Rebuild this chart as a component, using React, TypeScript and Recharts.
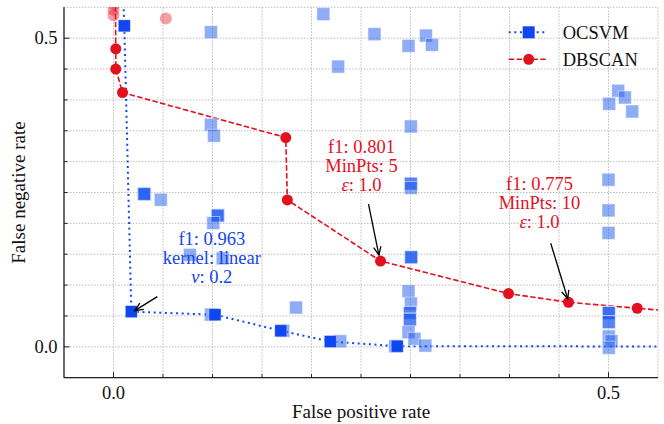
import React from 'react';
import { ComposedChart, XAxis, YAxis, CartesianGrid, Line, Scatter, ReferenceDot } from 'recharts';

// ---------- data ----------
const ocsvmFront = [
  { x: 0.0, y: 1.0 },
  { x: 0.0109, y: 0.52 },
  { x: 0.018, y: 0.057 },
  { x: 0.1025, y: 0.052 },
  { x: 0.169, y: 0.026 },
  { x: 0.219, y: 0.0086 },
  { x: 0.2866, y: 0.001 },
  { x: 1.0, y: 0.0 },
];

const dbscanFront = [
  { x: 0.0, y: 1.0 },
  { x: 0.0023, y: 0.4827 },
  { x: 0.0023, y: 0.45 },
  { x: 0.0091, y: 0.412 },
  { x: 0.174, y: 0.339 },
  { x: 0.1756, y: 0.238 },
  { x: 0.2697, y: 0.139 },
  { x: 0.399, y: 0.0862 },
  { x: 0.4596, y: 0.0722 },
  { x: 0.529, y: 0.0625 },
  { x: 1.0, y: 0.0 },
];

const ocsvmAll = [
  { x: 0.0984, y: 0.5097 },
  { x: 0.212, y: 0.539 },
  { x: 0.2636, y: 0.5065 },
  { x: 0.2269, y: 0.454 },
  { x: 0.298, y: 0.4875 },
  { x: 0.3156, y: 0.5042 },
  { x: 0.3217, y: 0.4892 },
  { x: 0.5098, y: 0.4147 },
  { x: 0.5165, y: 0.4039 },
  { x: 0.5007, y: 0.3937 },
  { x: 0.524, y: 0.3812 },
  { x: 0.0984, y: 0.3597 },
  { x: 0.1015, y: 0.3419 },
  { x: 0.031, y: 0.2476 },
  { x: 0.0305, y: 0.2485 },
  { x: 0.0315, y: 0.247 },
  { x: 0.031, y: 0.2476 },
  { x: 0.0478, y: 0.2383 },
  { x: 0.1052, y: 0.2125 },
  { x: 0.1057, y: 0.2132 },
  { x: 0.1052, y: 0.2125 },
  { x: 0.1008, y: 0.2006 },
  { x: 0.0772, y: 0.1489 },
  { x: 0.1103, y: 0.1434 },
  { x: 0.1844, y: 0.0636 },
  { x: 0.0984, y: 0.0523 },
  { x: 0.1715, y: 0.026 },
  { x: 0.229, y: 0.009 },
  { x: 0.2846, y: 0.001 },
  { x: 0.3004, y: 0.357 },
  { x: 0.3004, y: 0.2638 },
  { x: 0.3004, y: 0.2645 },
  { x: 0.3004, y: 0.2573 },
  { x: 0.5, y: 0.2707 },
  { x: 0.5, y: 0.221 },
  { x: 0.5, y: 0.1845 },
  { x: 0.3007, y: 0.145 },
  { x: 0.3007, y: 0.1455 },
  { x: 0.3007, y: 0.145 },
  { x: 0.298, y: 0.09 },
  { x: 0.3004, y: 0.07 },
  { x: 0.2994, y: 0.055 },
  { x: 0.2994, y: 0.055 },
  { x: 0.2994, y: 0.044 },
  { x: 0.2994, y: 0.044 },
  { x: 0.298, y: 0.0236 },
  { x: 0.304, y: 0.013 },
  { x: 0.315, y: 0.002 },
  { x: 0.5003, y: 0.055 },
  { x: 0.5003, y: 0.055 },
  { x: 0.5003, y: 0.055 },
  { x: 0.5003, y: 0.04 },
  { x: 0.5003, y: 0.04 },
  { x: 0.5003, y: 0.017 },
  { x: 0.503, y: 0.009 },
  { x: 0.5003, y: -0.0016 },
];

const dbscanAll = [
  { x: 0.0, y: 0.537 },
  { x: 0.0, y: 0.546 },
  { x: 0.0005, y: 0.555 },
  { x: 0.0529, y: 0.532 },
];

const axisTicks = [0, 0.05, 0.1, 0.15, 0.2, 0.25, 0.3, 0.35, 0.4, 0.45, 0.5];
const labeledTicks = [0, 0.5];
const xTitle = 'False positive rate';
const yTitle = 'False negative rate';
const legendNames = ['OCSVM', 'DBSCAN'];

const annOcsvm = [
  [['f1: 0.963', false]],
  [['kernel: linear', false]],
  [['ν', true], [': 0.2', false]],
];
const annDb5 = [
  [['f1: 0.801', false]],
  [['MinPts: 5', false]],
  [['ε', true], [': 1.0', false]],
];
const annDb10 = [
  [['f1: 0.775', false]],
  [['MinPts: 10', false]],
  [['ε', true], [': 1.0', false]],
];

// ---------- style ----------
const FONT = '"Liberation Serif", "Times New Roman", serif';
const BLUE = '#1046f0';
const RED = '#e3101e';
const LIGHT_BLUE = 'rgba(31,90,240,0.5)';
const LIGHT_RED = 'rgba(227,16,30,0.4)';
const AXIS = '#222';
const W = 664;
const H = 424;

const isLabeled = (v: number) => labeledTicks.some((t) => Math.abs(t - v) < 1e-9);

const BottomTick = (p: any) => {
  const { x, y, payload } = p;
  const m = isLabeled(payload.value);
  return (
    <g>
      <line x1={x} x2={x} y1={y} y2={y - (m ? 5.5 : 3.5)} stroke={AXIS} strokeWidth={1} />
      {m && (
        <text x={x} y={y + 21} textAnchor="middle" fontFamily={FONT} fontSize={18.5} fill="#111">
          {Number(payload.value).toFixed(1)}
        </text>
      )}
    </g>
  );
};
const TopTick = (p: any) => {
  const { x, y, payload } = p;
  const m = isLabeled(payload.value);
  return <line x1={x} x2={x} y1={y} y2={y + (m ? 5.5 : 3.5)} stroke={AXIS} strokeWidth={1} />;
};
const LeftTick = (p: any) => {
  const { x, y, payload } = p;
  const m = isLabeled(payload.value);
  return (
    <g>
      <line x1={x} x2={x + (m ? 5.5 : 3.5)} y1={y} y2={y} stroke={AXIS} strokeWidth={1} />
      {m && (
        <text x={x - 6.5} y={y + 6.2} textAnchor="end" fontFamily={FONT} fontSize={18.5} fill="#111">
          {Number(payload.value).toFixed(1)}
        </text>
      )}
    </g>
  );
};
const RightTick = (p: any) => {
  const { x, y, payload } = p;
  const m = isLabeled(payload.value);
  return <line x1={x} x2={x - (m ? 5.5 : 3.5)} y1={y} y2={y} stroke={AXIS} strokeWidth={1} />;
};

const inView = (pl: any) => pl && pl.x <= 0.6 && pl.y <= 0.6;

const FrontSquare = (p: any) => {
  if (!inView(p.payload)) return <g key={p.key ?? p.index} />;
  return <rect key={p.key ?? p.index} x={p.cx - 6} y={p.cy - 6} width={12} height={12} fill={BLUE} stroke="rgba(255,255,255,0.4)" strokeWidth={0.8} />;
};
const FrontCircle = (p: any) => {
  if (!inView(p.payload)) return <g key={p.key ?? p.index} />;
  return <circle key={p.key ?? p.index} cx={p.cx} cy={p.cy} r={5.5} fill={RED} />;
};
const LightSquare = (p: any) => (
  <rect x={p.cx - 6.5} y={p.cy - 6.5} width={13} height={13} fill={LIGHT_BLUE} stroke="rgba(255,255,255,0.5)" strokeWidth={1} />
);
const LightCircle = (p: any) => <circle cx={p.cx} cy={p.cy} r={6} fill={LIGHT_RED} />;

function makeAnnotation(lines: any[], color: string, tx: number, ty: number, lineGap: number, a0: number[], a1: number[]) {
  return (p: any) => {
    const { cx, cy } = p;
    const sx = cx + a0[0], sy = cy + a0[1];
    const ex = cx + a1[0], ey = cy + a1[1];
    const ang = Math.atan2(ey - sy, ex - sx);
    const hl = 9, ha = 0.42;
    const h1 = [ex - hl * Math.cos(ang - ha), ey - hl * Math.sin(ang - ha)];
    const h2 = [ex - hl * Math.cos(ang + ha), ey - hl * Math.sin(ang + ha)];
    return (
      <g>
        {lines.map((segs: any[], i: number) => (
          <text key={i} x={cx + tx} y={cy + ty + i * lineGap} textAnchor="middle" fontFamily={FONT} fontSize={18.5} fill={color}>
            {segs.map((s: any, j: number) => (
              <tspan key={j} fontStyle={s[1] ? 'italic' : 'normal'}>{s[0]}</tspan>
            ))}
          </text>
        ))}
        <line x1={sx} y1={sy} x2={ex} y2={ey} stroke="#000" strokeWidth={1.3} />
        <polyline points={`${h1[0]},${h1[1]} ${ex},${ey} ${h2[0]},${h2[1]}`} fill="none" stroke="#000" strokeWidth={1.3} />
      </g>
    );
  };
}

const AnnOcsvm = makeAnnotation(annOcsvm, BLUE, 80.5, -66.8, 19.2, [26, -15], [3.5, -1]);
const AnnDb5 = makeAnnotation(annDb5, RED, -19, -108, 18.8, [-12, -57], [-1.6, -6]);
const AnnDb10 = makeAnnotation(annDb10, RED, -29, -112, 19, [-17.8, -59], [-0.8, -3.5]);

const Legend = () => (
  <svg width={W} height={H} style={{ position: 'absolute', left: 0, top: 0, pointerEvents: 'none' }}>
    <line x1={508.7} x2={547} y1={32.3} y2={32.3} stroke={BLUE} strokeWidth={2} strokeDasharray="2 3.6" />
    <rect x={522.7} y={26.3} width={12} height={12} fill={BLUE} />
    <text x={562.7} y={38.6} fontFamily={FONT} fontSize={18.5} fill="#111">{legendNames[0]}</text>
    <line x1={508.7} x2={547} y1={59.3} y2={59.3} stroke={RED} strokeWidth={1.6} strokeDasharray="5.5 2.4" />
    <circle cx={528.7} cy={59.3} r={5.5} fill={RED} />
    <text x={562.7} y={65.6} fontFamily={FONT} fontSize={18.5} fill="#111">{legendNames[1]}</text>
  </svg>
);

export default function App() {
  return (
    <div style={{ position: 'absolute', left: 0, top: 0, width: W, height: H, background: '#fff' }}>
      <ComposedChart width={W} height={H} margin={{ top: 7.3, right: 6, bottom: 0, left: 0 }}>
        <CartesianGrid stroke="#bdbdbd" strokeDasharray="1.5 1.5" strokeWidth={1} />
        <XAxis
          xAxisId={0}
          dataKey="x"
          type="number"
          domain={[-0.05, 0.55]}
          allowDataOverflow
          ticks={axisTicks}
          interval={0}
          height={46.3}
          tickSize={0}
          tickMargin={0}
          tickLine={false}
          tick={<BottomTick />}
          axisLine={{ stroke: AXIS, strokeWidth: 1.3 }}
          label={{
            content: (lp: any) => {
              const vb = lp.viewBox || { x: 64, y: 378, width: 594 };
              return (
                <text x={vb.x + vb.width / 2} y={vb.y + 40} textAnchor="middle" fontFamily={FONT} fontSize={19} fill="#111">
                  {xTitle}
                </text>
              );
            },
          }}
        />
        <XAxis
          xAxisId="top"
          orientation="top"
          dataKey="x"
          type="number"
          domain={[-0.05, 0.55]}
          allowDataOverflow
          ticks={axisTicks}
          interval={0}
          height={0}
          tickSize={0}
          tickMargin={0}
          tickLine={false}
          tick={<TopTick />}
          axisLine={{ stroke: AXIS, strokeWidth: 1.3 }}
        />
        <YAxis
          yAxisId={0}
          dataKey="y"
          type="number"
          domain={[-0.05, 0.55]}
          allowDataOverflow
          ticks={axisTicks}
          interval={0}
          width={64}
          tickSize={0}
          tickMargin={0}
          tickLine={false}
          tick={<LeftTick />}
          axisLine={{ stroke: AXIS, strokeWidth: 1.3 }}
          label={{
            content: (lp: any) => {
              const vb = lp.viewBox || { x: 0, y: 7.3, height: 370.4 };
              const cx = 25;
              const cy = vb.y + vb.height / 2;
              return (
                <text x={cx} y={cy} transform={`rotate(-90, ${cx}, ${cy})`} textAnchor="middle" fontFamily={FONT} fontSize={19} fill="#111">
                  {yTitle}
                </text>
              );
            },
          }}
        />
        <YAxis
          yAxisId="right"
          orientation="right"
          dataKey="y"
          type="number"
          domain={[-0.05, 0.55]}
          allowDataOverflow
          ticks={axisTicks}
          interval={0}
          width={0}
          tickSize={0}
          tickMargin={0}
          tickLine={false}
          tick={<RightTick />}
          axisLine={{ stroke: AXIS, strokeWidth: 1.3 }}
        />
        <Scatter data={ocsvmAll} dataKey="y" shape={LightSquare} isAnimationActive={false} />
        <Scatter data={dbscanAll} dataKey="y" shape={LightCircle} isAnimationActive={false} />
        <Line
          data={ocsvmFront}
          dataKey="y"
          stroke={BLUE}
          strokeWidth={2}
          strokeDasharray="2 3.6"
          dot={FrontSquare}
          activeDot={false}
          isAnimationActive={false}
        />
        <Line
          data={dbscanFront}
          dataKey="y"
          stroke={RED}
          strokeWidth={1.6}
          strokeDasharray="5.5 2.4"
          dot={FrontCircle}
          activeDot={false}
          isAnimationActive={false}
        />
        <ReferenceDot x={ocsvmFront[2].x} y={ocsvmFront[2].y} r={0} shape={AnnOcsvm} ifOverflow="visible" />
        <ReferenceDot x={dbscanFront[6].x} y={dbscanFront[6].y} r={0} shape={AnnDb5} ifOverflow="visible" />
        <ReferenceDot x={dbscanFront[8].x} y={dbscanFront[8].y} r={0} shape={AnnDb10} ifOverflow="visible" />
      </ComposedChart>
      <Legend />
    </div>
  );
}
